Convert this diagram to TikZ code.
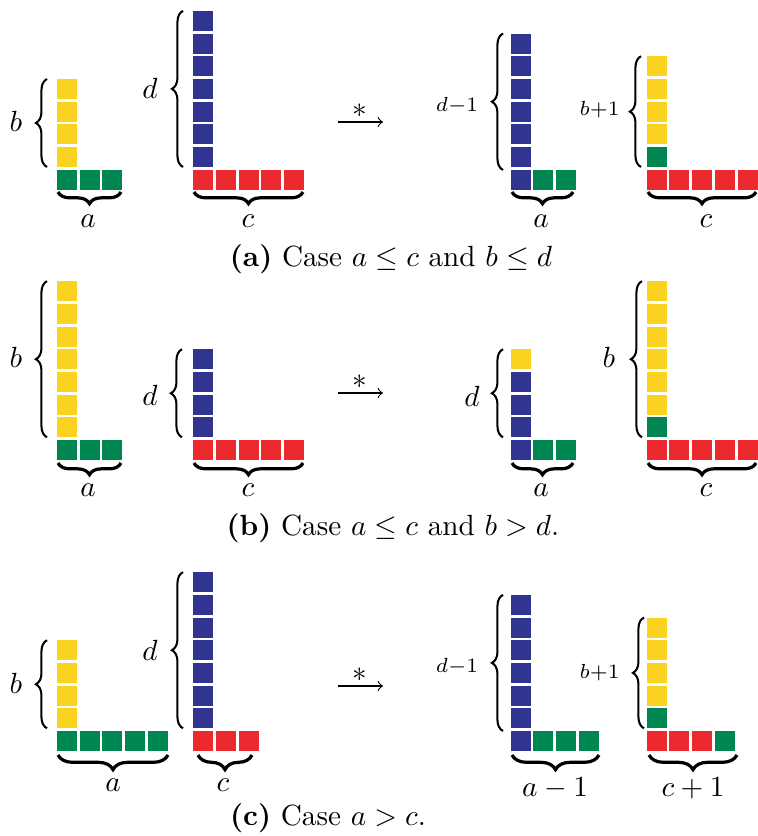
\documentclass[tikz,border=0pt]{standalone}
\usepackage{amsmath,amssymb}
\usepackage{xcolor}
\usetikzlibrary{calc, decorations.pathreplacing}

\definecolor{sqyellow}{RGB}{250,212,32}
\definecolor{sqgreen}{RGB}{0,134,81}
\definecolor{sqblue}{RGB}{50,52,146}
\definecolor{sqred}{RGB}{237,41,48}

% corner cell at #1, colours up the column in #2, colours along the row in #3
\newcommand{\lshape}[3]{%
  \begin{scope}[shift={(#1)}]
    \foreach \clr [count=\i] in {#2} \fill[\clr] (0,-\i*22.7) rectangle ++(20,20);
    \foreach \clr [count=\i from 0] in {#3} \fill[\clr] (\i*22.7,0) rectangle ++(20,20);
  \end{scope}}

\begin{document}
\begin{tikzpicture}[x=0.3425pt, y=-0.3425pt,
  lbrace/.style={decorate, decoration={brace, amplitude=3.8pt}, line width=0.7pt},
  bbrace/.style={decorate, decoration={brace, amplitude=4pt}, line width=1.1pt},
  arr/.style={-to, line width=0.4pt},
  star/.style={inner sep=0pt}]
\useasboundingbox (0,0) rectangle (758,836);

% (a)
\lshape{57,169.7}{sqyellow,sqyellow,sqyellow,sqyellow}{sqgreen,sqgreen,sqgreen}
\lshape{193.3,169.7}{sqblue,sqblue,sqblue,sqblue,sqblue,sqblue,sqblue}{sqred,sqred,sqred,sqred,sqred}
\lshape{510.7,169.7}{sqblue,sqblue,sqblue,sqblue,sqblue,sqblue}{sqblue,sqgreen,sqgreen}
\lshape{646.7,169.7}{sqgreen,sqyellow,sqyellow,sqyellow,sqyellow}{sqred,sqred,sqred,sqred,sqred}
\draw[lbrace] (47,167) -- (47,79);
\draw[lbrace] (183,167) -- (183,10.8);
\draw[lbrace] (503,170) -- (503,33.5);
\draw[lbrace] (641,167) -- (641,56.2);
\draw[bbrace] (121,192) -- (58,192);
\draw[bbrace] (303,192) -- (194,192);
\draw[bbrace] (573,192) -- (512,192);
\draw[bbrace] (756,192) -- (648,192);
\node (ab1) at (16,121) {$b$};
\node (ad1) at (150,88.5) {$d$};
\node (ad2) at (457,106) {$\scriptstyle d-1$};
\node (ab2) at (599.5,110) {$\scriptstyle b+1$};
\node (aa1) at (88,221) {$a$};
\node (ac1) at (248,221) {$c$};
\node (aa2) at (541,221) {$a$};
\node (ac2) at (706,221) {$c$};
\coordinate (aarr1) at (338,122);
\coordinate (aarr2) at (383,122);
\draw[arr] (aarr1) -- (aarr2);
\node[star] (aast) at (360,111) {$*$};
\node (capa) at (391,259) {\textbf{(a)} Case $a \le c$ and $b \le d$};

% (b)
\lshape{57,440}{sqyellow,sqyellow,sqyellow,sqyellow,sqyellow,sqyellow,sqyellow}{sqgreen,sqgreen,sqgreen}
\lshape{193.3,440}{sqblue,sqblue,sqblue,sqblue}{sqred,sqred,sqred,sqred,sqred}
\lshape{510.7,440}{sqblue,sqblue,sqblue,sqyellow}{sqblue,sqgreen,sqgreen}
\lshape{646.7,440}{sqgreen,sqyellow,sqyellow,sqyellow,sqyellow,sqyellow,sqyellow}{sqred,sqred,sqred,sqred,sqred}
\draw[lbrace] (47,437.3) -- (47,281.1);
\draw[lbrace] (182,437.3) -- (182,349.2);
\draw[lbrace] (503,437.3) -- (503,349.2);
\draw[lbrace] (642,437.3) -- (642,281.1);
\draw[bbrace] (121,463) -- (58,463);
\draw[bbrace] (303,463) -- (194,463);
\draw[bbrace] (573,463) -- (512,463);
\draw[bbrace] (756,463) -- (648,463);
\node (bb1) at (16,357) {$b$};
\node (bd1) at (150,395) {$d$};
\node (bd2) at (472,396) {$d$};
\node (bb2) at (609,357) {$b$};
\node (ba1) at (88,490) {$a$};
\node (bc1) at (248,490) {$c$};
\node (ba2) at (541,490) {$a$};
\node (bc2) at (706,490) {$c$};
\coordinate (barr1) at (338,393);
\coordinate (barr2) at (383,393);
\draw[arr] (barr1) -- (barr2);
\node[star] (bast) at (360,382) {$*$};
\node (capb) at (393,528) {\textbf{(b)} Case $a \le c$ and $b > d$.};

% (c)
\lshape{57,731}{sqyellow,sqyellow,sqyellow,sqyellow}{sqgreen,sqgreen,sqgreen,sqgreen,sqgreen}
\lshape{193.3,731}{sqblue,sqblue,sqblue,sqblue,sqblue,sqblue,sqblue}{sqred,sqred,sqred}
\lshape{510.7,731}{sqblue,sqblue,sqblue,sqblue,sqblue,sqblue}{sqblue,sqgreen,sqgreen,sqgreen}
\lshape{646.7,731}{sqgreen,sqyellow,sqyellow,sqyellow,sqyellow}{sqred,sqred,sqred,sqgreen}
\draw[lbrace] (47,728.3) -- (47,640.2);
\draw[lbrace] (183,728.3) -- (183,572.1);
\draw[lbrace] (503,731) -- (503,594.8);
\draw[lbrace] (644,728.3) -- (644,617.5);
\draw[bbrace, decoration={amplitude=5pt}] (168,755) -- (58,755);
\draw[bbrace, decoration={amplitude=5pt}] (252,755) -- (198,755);
\draw[bbrace, decoration={amplitude=5pt}] (599,755) -- (512,755);
\draw[bbrace, decoration={amplitude=5pt}] (737,755) -- (649,755);
\node (cb1) at (16,683) {$b$};
\node (cd1) at (150,650) {$d$};
\node (cd2) at (457,667) {$\scriptstyle d-1$};
\node (cb2) at (599.5,673) {$\scriptstyle b+1$};
\node (ca1) at (113,785) {$a$};
\node (cc1) at (223,785) {$c$};
\node (ca2) at (555,788) {$a-1$};
\node (cc2) at (693,788) {$c+1$};
\coordinate (carr1) at (338,686);
\coordinate (carr2) at (383,686);
\draw[arr] (carr1) -- (carr2);
\node[star] (cast) at (360,675) {$*$};
\node (capc) at (328,818) {\textbf{(c)} Case $a > c$.};
\end{tikzpicture}
\end{document}
